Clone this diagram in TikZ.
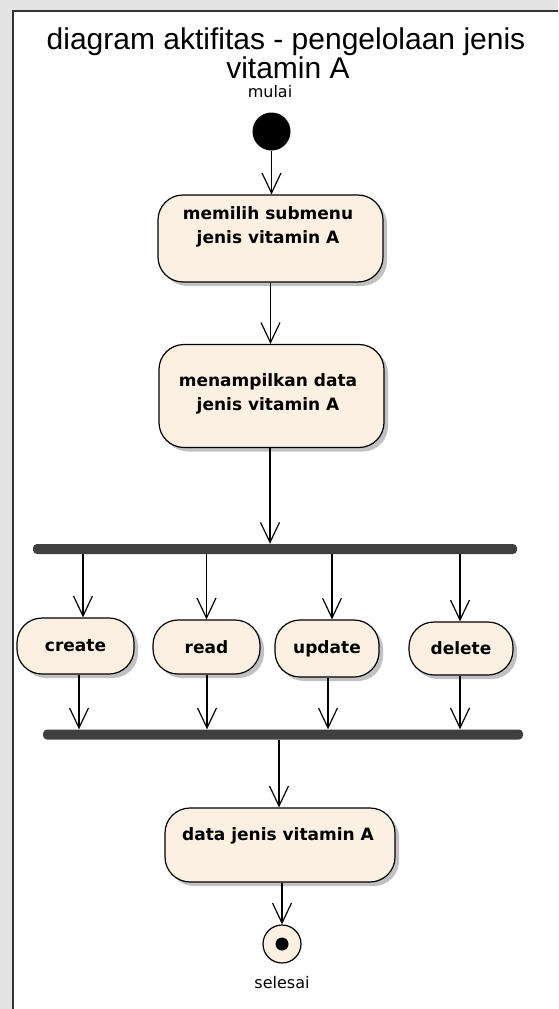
\documentclass[tikz,border=0pt]{standalone}
\usepackage{fontspec}
\setmainfont{DejaVu Sans}
\newfontfamily\titlefont{Liberation Sans}
\usetikzlibrary{arrows.meta,shadows,calc}
\definecolor{actfill}{HTML}{FBF0E2}
\definecolor{barcol}{HTML}{404040}
\definecolor{bggray}{HTML}{E3E3E3}
\begin{document}
\begin{tikzpicture}[x=1pt,y=-1pt,
  act/.style={draw=black, line width=1.2pt, fill=actfill, rounded corners=25pt,
    drop shadow={shadow xshift=4pt, shadow yshift=-4pt, fill=black!40, opacity=0.6},
    inner sep=0pt, font=\fontsize{17}{24}\selectfont\bfseries, align=center},
  acttext/.style={font=\fontsize{17}{24}\selectfont\bfseries, align=center, inner sep=0pt},
  bar/.style={fill=barcol, rounded corners=4pt, inner sep=0pt, minimum height=10pt},
  flow/.style={line width=1.2pt, -{Straight Barb[length=20pt,width=19pt,line width=1.2pt]}},
  lbl/.style={font=\fontsize{16}{18}\selectfont, inner sep=0pt}]
\fill[bggray] (0,0) rectangle (558,1009);
\useasboundingbox (0,0) rectangle (558,1009);
\fill[white] (13,11) rectangle (558,1009);
\draw[line width=2pt, black!80] (13,1009) -- (13,11) -- (558,11);

% title
\node[font=\titlefont\fontsize{30}{30}\selectfont, anchor=base, inner sep=0pt] (t1) at (286,49) {diagram aktifitas - pengelolaan jenis};
\node[font=\titlefont\fontsize{30}{30}\selectfont, anchor=base, inner sep=0pt] (t2) at (288,78) {vitamin A};

% start
\node[lbl] (mulai) at (270,92) {mulai};
\node[circle, fill=black, minimum size=38pt, inner sep=0pt] (start) at (271.5,131.5) {};

% activities
\node[act, minimum width=225pt, minimum height=87pt] (b1) at (270.5,238.5) {};
\node[acttext] (b1t) at (268,227) {memilih submenu\\jenis vitamin A};
\node[act, minimum width=225pt, minimum height=103pt] (b2) at (271.5,396) {};
\node[acttext] (b2t) at (268,394) {menampilkan data\\jenis vitamin A};

\node[bar, minimum width=484pt] (fork1) at (275,549) {};

\node[act, minimum width=117pt, minimum height=56pt] (create) at (75.5,646) {create};
\node[act, minimum width=107pt, minimum height=54pt] (read) at (206.5,647) {read};
\node[act, minimum width=104pt, minimum height=57pt] (update) at (327,648.5) {update};
\node[act, minimum width=104pt, minimum height=53pt] (delete) at (461,648.5) {delete};

\node[bar, minimum width=480pt] (fork2) at (283,734.5) {};

\node[act, minimum width=230pt, minimum height=74pt] (b3) at (280,845) {};
\node[acttext] (b3t) at (278,836) {data jenis vitamin A};

% end
\node[circle, draw=black, line width=1.2pt, fill=actfill, minimum size=38pt, inner sep=0pt] (end) at (282,944) {};
\node[circle, fill=black, minimum size=13pt, inner sep=0pt] (enddot) at (end.center) {};
\node[lbl] (selesai) at (282,983) {selesai};

% flows
\draw[flow] (start.south) -- (start.south |- b1.north);
\draw[flow] (b1.south) -- (b1.south |- b2.north);
\draw[flow] ([xshift=-1.5pt]b2.south) -- ([xshift=-1.5pt]b2.south |- fork1.north);
\draw[flow] ([xshift=7.5pt]create.north |- fork1.south) -- ([xshift=7.5pt]create.north);
\draw[flow] (read.north |- fork1.south) -- (read.north);
\draw[flow] ([xshift=5pt]update.north |- fork1.south) -- ([xshift=5pt]update.north);
\draw[flow] ([xshift=-1pt]delete.north |- fork1.south) -- ([xshift=-1pt]delete.north);
\draw[flow] ([xshift=3.5pt]create.south) -- ([xshift=3.5pt]create.south |- fork2.north);
\draw[flow] ([xshift=0.5pt]read.south) -- ([xshift=0.5pt]read.south |- fork2.north);
\draw[flow] ([xshift=1pt]update.south) -- ([xshift=1pt]update.south |- fork2.north);
\draw[flow] ([xshift=-1pt]delete.south) -- ([xshift=-1pt]delete.south |- fork2.north);
\draw[flow] ([xshift=-1pt]b3.north |- fork2.south) -- ([xshift=-1pt]b3.north);
\draw[flow] ([xshift=2pt]b3.south) -- ([xshift=2pt]b3.south |- end.north);
\end{tikzpicture}
\end{document}
